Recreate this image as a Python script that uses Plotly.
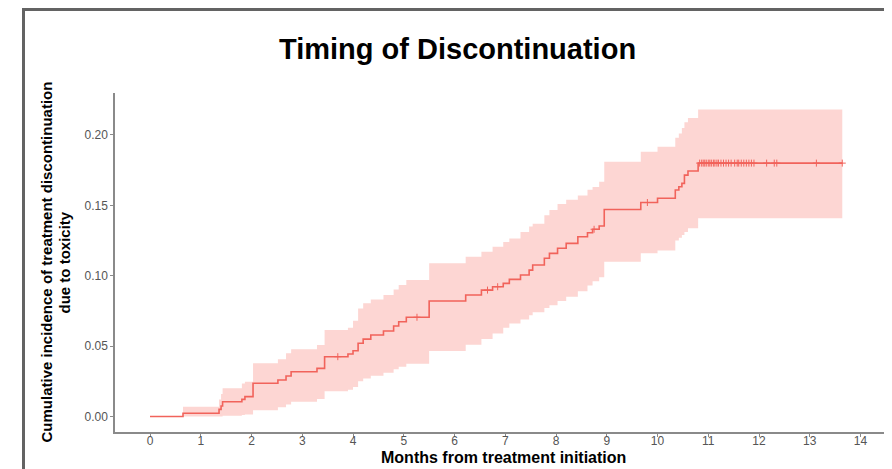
import numpy as np
import plotly.graph_objects as go

# ---- data (months, cumulative incidence) ----
event_times = [0, 0.65, 1.36, 1.40, 1.43, 1.81, 1.87, 2.03, 2.52, 2.68,
               2.78, 3.29, 3.44, 3.90, 4.00, 4.10, 4.20, 4.35, 4.60, 4.80,
               4.90, 5.05, 5.50, 6.22, 6.53, 6.75, 6.96, 7.08, 7.30, 7.47,
               7.54, 7.77, 7.87, 8.03, 8.20, 8.43, 8.62, 8.72, 8.85, 8.95,
               9.67, 10.00, 10.35, 10.42, 10.48, 10.53, 10.60, 10.80]
end_time = 13.64

estimate = [0, 0.0023, 0.0051, 0.0075, 0.0105, 0.0122, 0.0141, 0.0236, 0.0259, 0.0288,
            0.0318, 0.0342, 0.0425, 0.0444, 0.0467, 0.052, 0.055, 0.0579, 0.0607, 0.0643,
            0.0673, 0.0705, 0.082, 0.0863, 0.0898, 0.0922, 0.0946, 0.0974, 0.1005, 0.104,
            0.1076, 0.1124, 0.1159, 0.1195, 0.123, 0.1277, 0.1305, 0.133, 0.1353, 0.147,
            0.152, 0.155, 0.1609, 0.1632, 0.1656, 0.1715, 0.1744, 0.18]

upper_ci = [0, 0.007, 0.012, 0.016, 0.020, 0.0235, 0.0247, 0.0378, 0.0406, 0.0449,
            0.0477, 0.0508, 0.0614, 0.063, 0.068, 0.0768, 0.0804, 0.0832, 0.0863, 0.0903,
            0.0934, 0.097, 0.1088, 0.1135, 0.117, 0.1206, 0.124, 0.1265, 0.131, 0.135,
            0.137, 0.143, 0.1467, 0.151, 0.154, 0.157, 0.161, 0.163, 0.1668, 0.181,
            0.188, 0.1916, 0.198, 0.201, 0.205, 0.209, 0.212, 0.218]

lower_ci = [0, 0, 0, 0, 0.0005, 0.001, 0.0015, 0.0045, 0.0065, 0.0085,
            0.0105, 0.0125, 0.018, 0.019, 0.021, 0.025, 0.027, 0.029, 0.031, 0.0335,
            0.0354, 0.0375, 0.0465, 0.051, 0.055, 0.059, 0.063, 0.066, 0.069, 0.072,
            0.074, 0.077, 0.079, 0.082, 0.085, 0.089, 0.093, 0.096, 0.099, 0.110,
            0.116, 0.118, 0.125, 0.127, 0.129, 0.131, 0.1337, 0.1408]

censor_times = [3.7, 5.26, 6.65, 6.85, 8.75, 9.8,
                10.83, 10.87, 10.9, 10.93, 10.96, 11.0, 11.03, 11.06, 11.1, 11.13,
                11.17, 11.2, 11.25, 11.3, 11.35, 11.4, 11.45, 11.52, 11.57, 11.6,
                11.65, 11.7, 11.75, 11.8, 11.85, 11.9, 12.15, 12.3, 12.35, 13.13, 13.64]

x_ticks = list(range(0, 15))
y_ticks = [0.00, 0.05, 0.10, 0.15, 0.20]
y_tick_labels = ["0.00", "0.05", "0.10", "0.15", "0.20"]

title_text = "Timing of Discontinuation"
x_title = "Months from treatment initiation"
y_title_1 = "Cumulative incidence of treatment discontinuation"
y_title_2 = "due to toxicity"

# ---- build step series ----
xs = event_times + [end_time]
est = estimate + [estimate[-1]]
up = upper_ci + [upper_ci[-1]]
lo = lower_ci + [lower_ci[-1]]

idx = np.searchsorted(np.array(event_times), np.array(censor_times), side="right") - 1
censor_y = [estimate[i] for i in idx]

LINE = "#F1635B"
BAND = "rgba(248,118,109,0.30)"
FONT = "Liberation Sans, Arial, sans-serif"

fig = go.Figure()
fig.add_trace(go.Scatter(x=xs, y=lo, mode="lines", line=dict(width=0, shape="hv"),
                         hoverinfo="skip", showlegend=False))
fig.add_trace(go.Scatter(x=xs, y=up, mode="lines", line=dict(width=0, shape="hv"),
                         fill="tonexty", fillcolor=BAND, hoverinfo="skip", showlegend=False))
fig.add_trace(go.Scatter(x=xs, y=est, mode="lines", line=dict(color=LINE, width=1.6, shape="hv"),
                         showlegend=False))
fig.add_trace(go.Scatter(x=censor_times, y=censor_y, mode="markers",
                         marker=dict(symbol="cross-thin-open", size=5, color=LINE,
                                     line=dict(color=LINE, width=1)),
                         showlegend=False))

# page body has an 8px default margin: the figure starts at page (8, 8)
OFF = 8
W, H = 892 - OFF, 469 - OFF
# page-pixel layout of the plot area
PL, PR, PT, PB = 115, 892, 93, 432
L, T = PL - OFF, PT - OFF
R, B = W - (PR - OFF), H - (PB - OFF)
pw, ph = PR - PL, PB - PT

def px_x(p):
    return (p - PL) / pw

def px_y(p):
    return (PB - p) / ph

fig.update_layout(
    width=W, height=H,
    margin=dict(l=L, r=R, t=T, b=B, autoexpand=False),
    paper_bgcolor="white", plot_bgcolor="white",
    font=dict(family=FONT),
    xaxis=dict(range=[-0.69, 14.62], tickvals=x_ticks, showgrid=False, zeroline=False,
               showline=True, linecolor="#8a8a8a", linewidth=1.5,
               ticks="outside", ticklen=3, tickcolor="#8a8a8a", tickwidth=1,
               ticklabelstandoff=-6,
               tickfont=dict(size=12, color="#555555", family=FONT)),
    yaxis=dict(range=[-0.011, 0.2298], tickvals=y_ticks, ticktext=y_tick_labels,
               showgrid=False, zeroline=False,
               showline=True, linecolor="#8a8a8a", linewidth=1.5,
               ticks="outside", ticklen=3, tickcolor="#8a8a8a", tickwidth=1,
               tickfont=dict(size=12, color="#555555", family=FONT)),
    annotations=[
        dict(text="<b>%s</b>" % title_text, xref="paper", yref="paper",
             x=px_x(457), y=px_y(49), xanchor="center", yanchor="middle",
             showarrow=False, font=dict(size=29, color="black", family=FONT)),
        dict(text="<b>%s</b>" % x_title, xref="paper", yref="paper",
             x=0.5, y=px_y(457), xanchor="center", yanchor="middle",
             showarrow=False, font=dict(size=16, color="black", family=FONT)),
        dict(text="<b>%s</b>" % y_title_1, xref="paper", yref="paper",
             x=px_x(46), y=0.5, xanchor="center", yanchor="middle", textangle=-90,
             showarrow=False, font=dict(size=15, color="black", family=FONT)),
        dict(text="<b>%s</b>" % y_title_2, xref="paper", yref="paper",
             x=px_x(64), y=0.5, xanchor="center", yanchor="middle", textangle=-90,
             showarrow=False, font=dict(size=15, color="black", family=FONT)),
    ],
    shapes=[
        dict(type="rect", xref="paper", yref="paper",
             x0=px_x(23.5), x1=px_x(905), y0=px_y(485), y1=px_y(9.5),
             line=dict(color="#636363", width=3), fillcolor="rgba(0,0,0,0)", layer="below"),
    ],
)

fig.write_html("out.html")
